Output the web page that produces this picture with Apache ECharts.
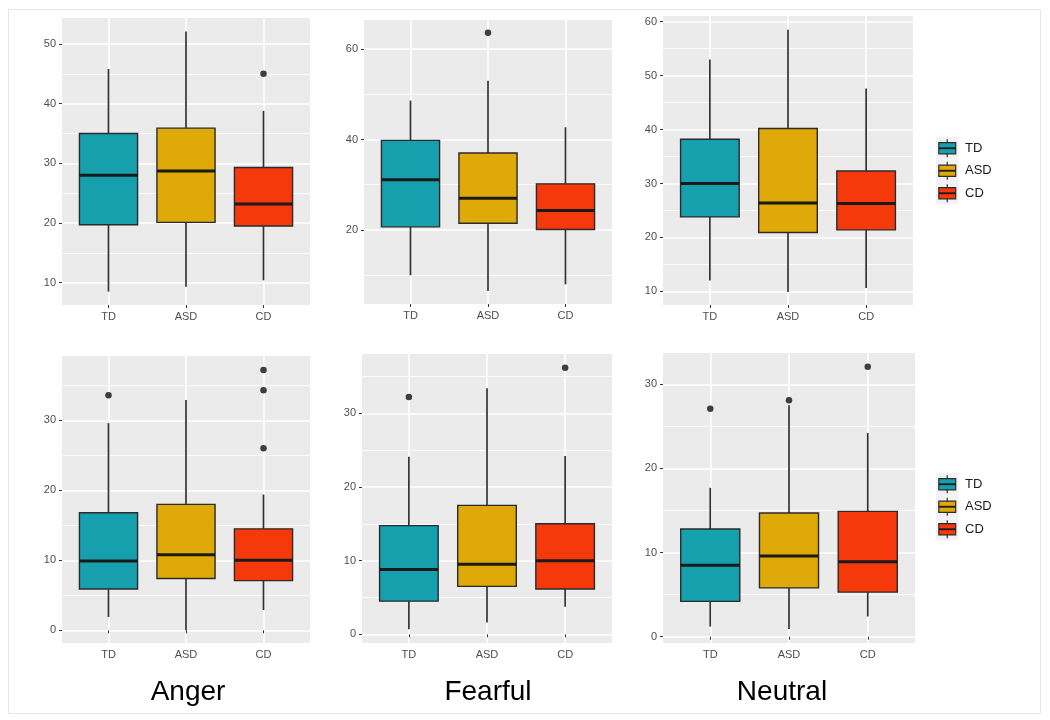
<!DOCTYPE html>
<html>
<head>
<meta charset="utf-8">
<script src="https://cdn.jsdelivr.net/npm/echarts@6/dist/echarts.min.js"></script>
<style>
html,body{margin:0;padding:0;background:#fff;}
#chart{width:1050px;height:720px;}
</style>
</head>
<body>
<div id="chart"></div>
<script>
// ---- data ----
const categories = ['TD', 'ASD', 'CD'];
const emotions = ['Anger', 'Fearful', 'Neutral'];
// each box: [lower whisker, Q1, median, Q3, upper whisker]
const angerTop = [[8.5, 19.7, 28.0, 35.0, 45.8], [9.3, 20.1, 28.7, 35.9, 52.1], [10.4, 19.5, 23.2, 29.3, 38.8]];
const angerTopOutliers = [[], [], [45.0]];
const fearfulTop = [[10.0, 20.7, 31.1, 39.8, 48.6], [6.5, 21.5, 27.0, 37.0, 53.0], [8.0, 20.1, 24.3, 30.2, 42.7]];
const fearfulTopOutliers = [[], [63.6], []];
const neutralTop = [[12.0, 23.8, 30.0, 38.2, 53.0], [9.9, 20.9, 26.4, 40.2, 58.5], [10.6, 21.4, 26.3, 32.3, 47.6]];
const neutralTopOutliers = [[], [], []];
const angerBottom = [[1.9, 5.9, 9.9, 16.8, 29.6], [0.0, 7.4, 10.8, 18.0, 32.9], [2.9, 7.1, 10.0, 14.5, 19.4]];
const angerBottomOutliers = [[33.6], [], [37.2, 34.3, 26.0]];
const fearfulBottom = [[0.7, 4.5, 8.8, 14.75, 24.1], [1.6, 6.5, 9.5, 17.5, 33.4], [3.75, 6.15, 10.0, 15.0, 24.2]];
const fearfulBottomOutliers = [[32.2], [], [36.2]];
const neutralBottom = [[1.2, 4.2, 8.5, 12.8, 17.7], [0.9, 5.8, 9.6, 14.7, 27.5], [2.4, 5.3, 8.9, 14.9, 24.2]];
const neutralBottomOutliers = [[27.1], [28.1], [32.1]];
// y-axis tick labels per panel
const ticksAngerTop = [10, 20, 30, 40, 50];
const ticksFearfulTop = [20, 40, 60];
const ticksNeutralTop = [10, 20, 30, 40, 50, 60];
const ticksAngerBottom = [0, 10, 20, 30];
const ticksFearfulBottom = [0, 10, 20, 30];
const ticksNeutralBottom = [0, 10, 20, 30];
const minorAngerTop = [15, 25, 35, 45];
const minorFearfulTop = [10, 30, 50];
const minorNeutralTop = [15, 25, 35, 45, 55];
const minorAngerBottom = [5, 15, 25, 35];
const minorFearfulBottom = [5, 15, 25, 35];
const minorNeutralBottom = [5, 15, 25];

// ---- styling / layout ----
const COLORS = ['#16a0ad', '#dfa909', '#f5390b'];
const FONT = '"Liberation Sans", Arial, Helvetica, sans-serif';
const panels = [
  {box: angerTop, out: angerTopOutliers, ticks: ticksAngerTop, minor: minorAngerTop, min: 6.26, max: 54.36, grid: {left: 62, top: 18, width: 248, height: 287}},
  {box: fearfulTop, out: fearfulTopOutliers, ticks: ticksFearfulTop, minor: minorFearfulTop, min: 3.65, max: 66.4, grid: {left: 364, top: 20, width: 248, height: 284}},
  {box: neutralTop, out: neutralTopOutliers, ticks: ticksNeutralTop, minor: minorNeutralTop, min: 7.47, max: 61.05, grid: {left: 663, top: 16, width: 250, height: 289}},
  {box: angerBottom, out: angerBottomOutliers, ticks: ticksAngerBottom, minor: minorAngerBottom, min: -1.81, max: 39.19, grid: {left: 62, top: 356, width: 248, height: 287}},
  {box: fearfulBottom, out: fearfulBottomOutliers, ticks: ticksFearfulBottom, minor: minorFearfulBottom, min: -1.18, max: 38.05, grid: {left: 362, top: 354, width: 250, height: 289}},
  {box: neutralBottom, out: neutralBottomOutliers, ticks: ticksNeutralBottom, minor: minorNeutralBottom, min: -0.75, max: 33.72, grid: {left: 663, top: 353, width: 252, height: 290}}
];

function renderBox(params, api) {
  const x = api.value(0);
  const lo = api.coord([x, api.value(1)]);
  const q1 = api.coord([x, api.value(2)]);
  const md = api.coord([x, api.value(3)]);
  const q3 = api.coord([x, api.value(4)]);
  const hi = api.coord([x, api.value(5)]);
  const w = api.size([0.75, 0])[0];
  const color = COLORS[api.value(6)];
  const cx = q1[0];
  return {
    type: 'group',
    children: [
      {type: 'line', shape: {x1: cx, y1: lo[1], x2: cx, y2: q1[1]}, style: {stroke: '#333333', lineWidth: 1.7}},
      {type: 'line', shape: {x1: cx, y1: q3[1], x2: cx, y2: hi[1]}, style: {stroke: '#333333', lineWidth: 1.7}},
      {type: 'rect', shape: {x: cx - w / 2, y: q3[1], width: w, height: q1[1] - q3[1]}, style: {fill: color, stroke: '#2b2b2b', lineWidth: 1.4}},
      {type: 'line', shape: {x1: cx - w / 2, y1: md[1], x2: cx + w / 2, y2: md[1]}, style: {stroke: '#1a1a1a', lineWidth: 3}}
    ]
  };
}

const grid = [], xAxis = [], yAxis = [], series = [];
panels.forEach((p, i) => {
  grid.push(Object.assign({show: true, backgroundColor: '#ebebeb', borderWidth: 0, containLabel: false}, p.grid));
  xAxis.push({
    type: 'value', gridIndex: i, min: 0.4, max: 3.6,
    axisLine: {show: false},
    axisTick: {show: true, length: 3, lineStyle: {color: '#333333', width: 1}, customValues: [1, 2, 3]},
    axisLabel: {show: true, customValues: [1, 2, 3], margin: 6, color: '#4d4d4d', fontSize: 11, fontFamily: FONT,
      formatter: v => categories[Math.round(v) - 1] || ''},
    splitLine: {show: true, lineStyle: {color: '#ffffff', width: 1.6}}
  });
  yAxis.push({
    type: 'value', gridIndex: i, min: p.min, max: p.max,
    axisLine: {show: false},
    axisTick: {show: true, length: 3, lineStyle: {color: '#333333', width: 1}, customValues: p.ticks},
    axisLabel: {show: true, customValues: p.ticks, margin: 6, color: '#4d4d4d', fontSize: 11, fontFamily: FONT},
    splitLine: {show: true, lineStyle: {color: '#ffffff', width: 1.6}}
  });
  yAxis.push({
    type: 'value', gridIndex: i, min: p.min, max: p.max, position: 'left',
    axisLine: {show: false},
    axisTick: {show: false, customValues: p.minor},
    axisLabel: {show: false, customValues: p.minor},
    splitLine: {show: true, lineStyle: {color: '#ffffff', width: 0.8}}
  });
  series.push({
    type: 'custom', xAxisIndex: i, yAxisIndex: 2 * i, renderItem: renderBox,
    encode: {x: 0, y: [1, 2, 3, 4, 5]},
    data: p.box.map((b, k) => [k + 1, b[0], b[1], b[2], b[3], b[4], k]),
    silent: true, z: 3
  });
  const pts = [];
  p.out.forEach((arr, k) => arr.forEach(v => pts.push([k + 1, v])));
  series.push({
    type: 'scatter', xAxisIndex: i, yAxisIndex: 2 * i, data: pts,
    symbol: 'circle', symbolSize: 6.5, itemStyle: {color: '#111111'}, silent: true, z: 4
  });
});

// legend glyphs (ggplot style boxplot keys)
function legendKeys(top) {
  const out = [];
  const k = 22.5, left = 936;
  categories.forEach((c, i) => {
    const y = top + i * k;
    const cx = left + k / 2;
    out.push({type: 'rect', shape: {x: left, y: y, width: k, height: k}, style: {fill: '#f2f2f2'}, silent: true});
    out.push({type: 'line', shape: {x1: cx, y1: y + k * 0.1, x2: cx, y2: y + k * 0.9}, style: {stroke: '#333333', lineWidth: 1.2}, silent: true});
    out.push({type: 'rect', shape: {x: left + k * 0.125, y: y + k * 0.25, width: k * 0.75, height: k * 0.5}, style: {fill: COLORS[i], stroke: '#2b2b2b', lineWidth: 1.2}, silent: true});
    out.push({type: 'line', shape: {x1: left + k * 0.125, y1: y + k * 0.5, x2: left + k * 0.875, y2: y + k * 0.5}, style: {stroke: '#1a1a1a', lineWidth: 1.8}, silent: true});
    out.push({type: 'text', x: 965, y: y + k / 2, style: {text: c, fill: '#1a1a1a', font: '13px ' + FONT, verticalAlign: 'middle', align: 'left'}, silent: true});
  });
  return out;
}

const titleCenters = [188, 488, 782];
const graphics = [
  {type: 'rect', shape: {x: 8.5, y: 9.5, width: 1032, height: 704}, style: {fill: 'none', stroke: '#e6e6e6', lineWidth: 1}, silent: true, z: -10}
].concat(legendKeys(137), legendKeys(473),
  emotions.map((e, i) => ({type: 'text', x: titleCenters[i], y: 692, style: {text: e, fill: '#000000', font: '28px ' + FONT, align: 'center', verticalAlign: 'middle'}, silent: true})));

const chart = echarts.init(document.getElementById('chart'), null, {renderer: 'canvas'});
chart.setOption({
  animation: false,
  backgroundColor: '#ffffff',
  grid: grid, xAxis: xAxis, yAxis: yAxis, series: series,
  graphic: graphics
});
</script>
</body>
</html>
